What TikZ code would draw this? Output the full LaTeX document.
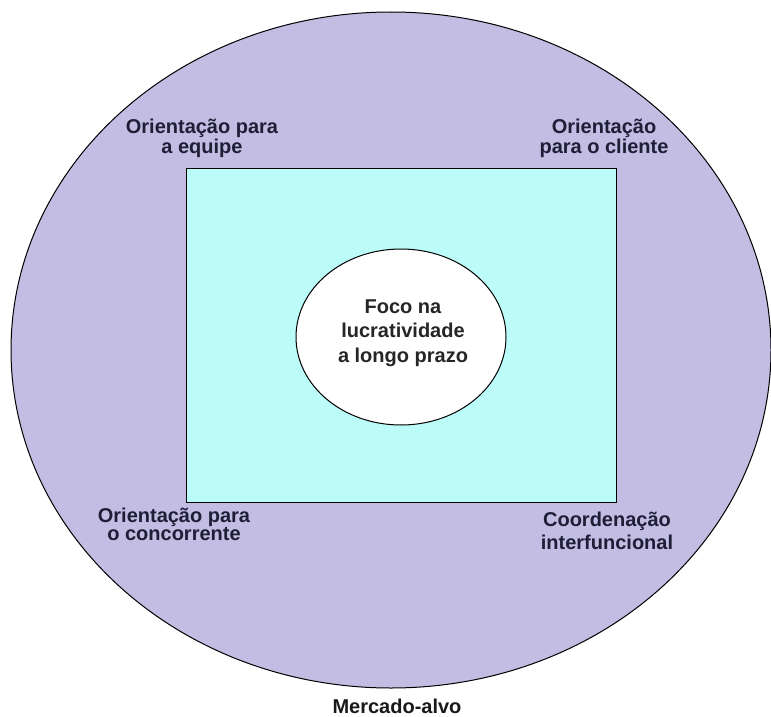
\documentclass[tikz,border=0pt]{standalone}
\usepackage{fontspec}
\setmainfont{Liberation Sans}
\usetikzlibrary{shapes.geometric}
\definecolor{market}{RGB}{196,189,227}
\definecolor{panel}{RGB}{187,252,249}
\definecolor{ink}{RGB}{30,30,55}
\tikzset{
  lbl/.style={align=center, inner sep=0pt, text=ink,
    font=\fontsize{20}{18}\selectfont\bfseries},
  outline/.style={draw=black, line width=1pt}
}
\begin{document}
\begin{tikzpicture}[x=1pt,y=-1pt]
\useasboundingbox[fill=white] (0,0) rectangle (771,717);
% target market
\draw[outline, fill=market] (391,350) ellipse [x radius=380, y radius=338];
% inner panel
\draw[outline, fill=panel] (186,168) rectangle (616,502);
% core ellipse
\node[outline, fill=white, ellipse, minimum width=210pt, minimum height=176pt, inner sep=0pt] (core) at (401,337) {};
% labels (base anchor sits on the last line)
\node[lbl, font=\fontsize{20}{24.5}\selectfont\bfseries, text=black!85, anchor=base] (foco) at (403,362) {Foco na\\lucratividade\\a longo prazo};
\node[lbl, anchor=base] (equipe) at (202,153) {Orientação para\\a equipe};
\node[lbl, anchor=base] (cliente) at (604,153) {Orientação\\para o cliente};
\node[lbl, anchor=base] (concorrente) at (174,540) {Orientação para\\o concorrente};
\node[lbl, font=\fontsize{20}{23}\selectfont\bfseries, anchor=base] (coord) at (607,549) {Coordenação\\interfuncional};
\node[lbl, text=black!90, anchor=base] (mercado) at (397,713) {Mercado-alvo};
\end{tikzpicture}
\end{document}
